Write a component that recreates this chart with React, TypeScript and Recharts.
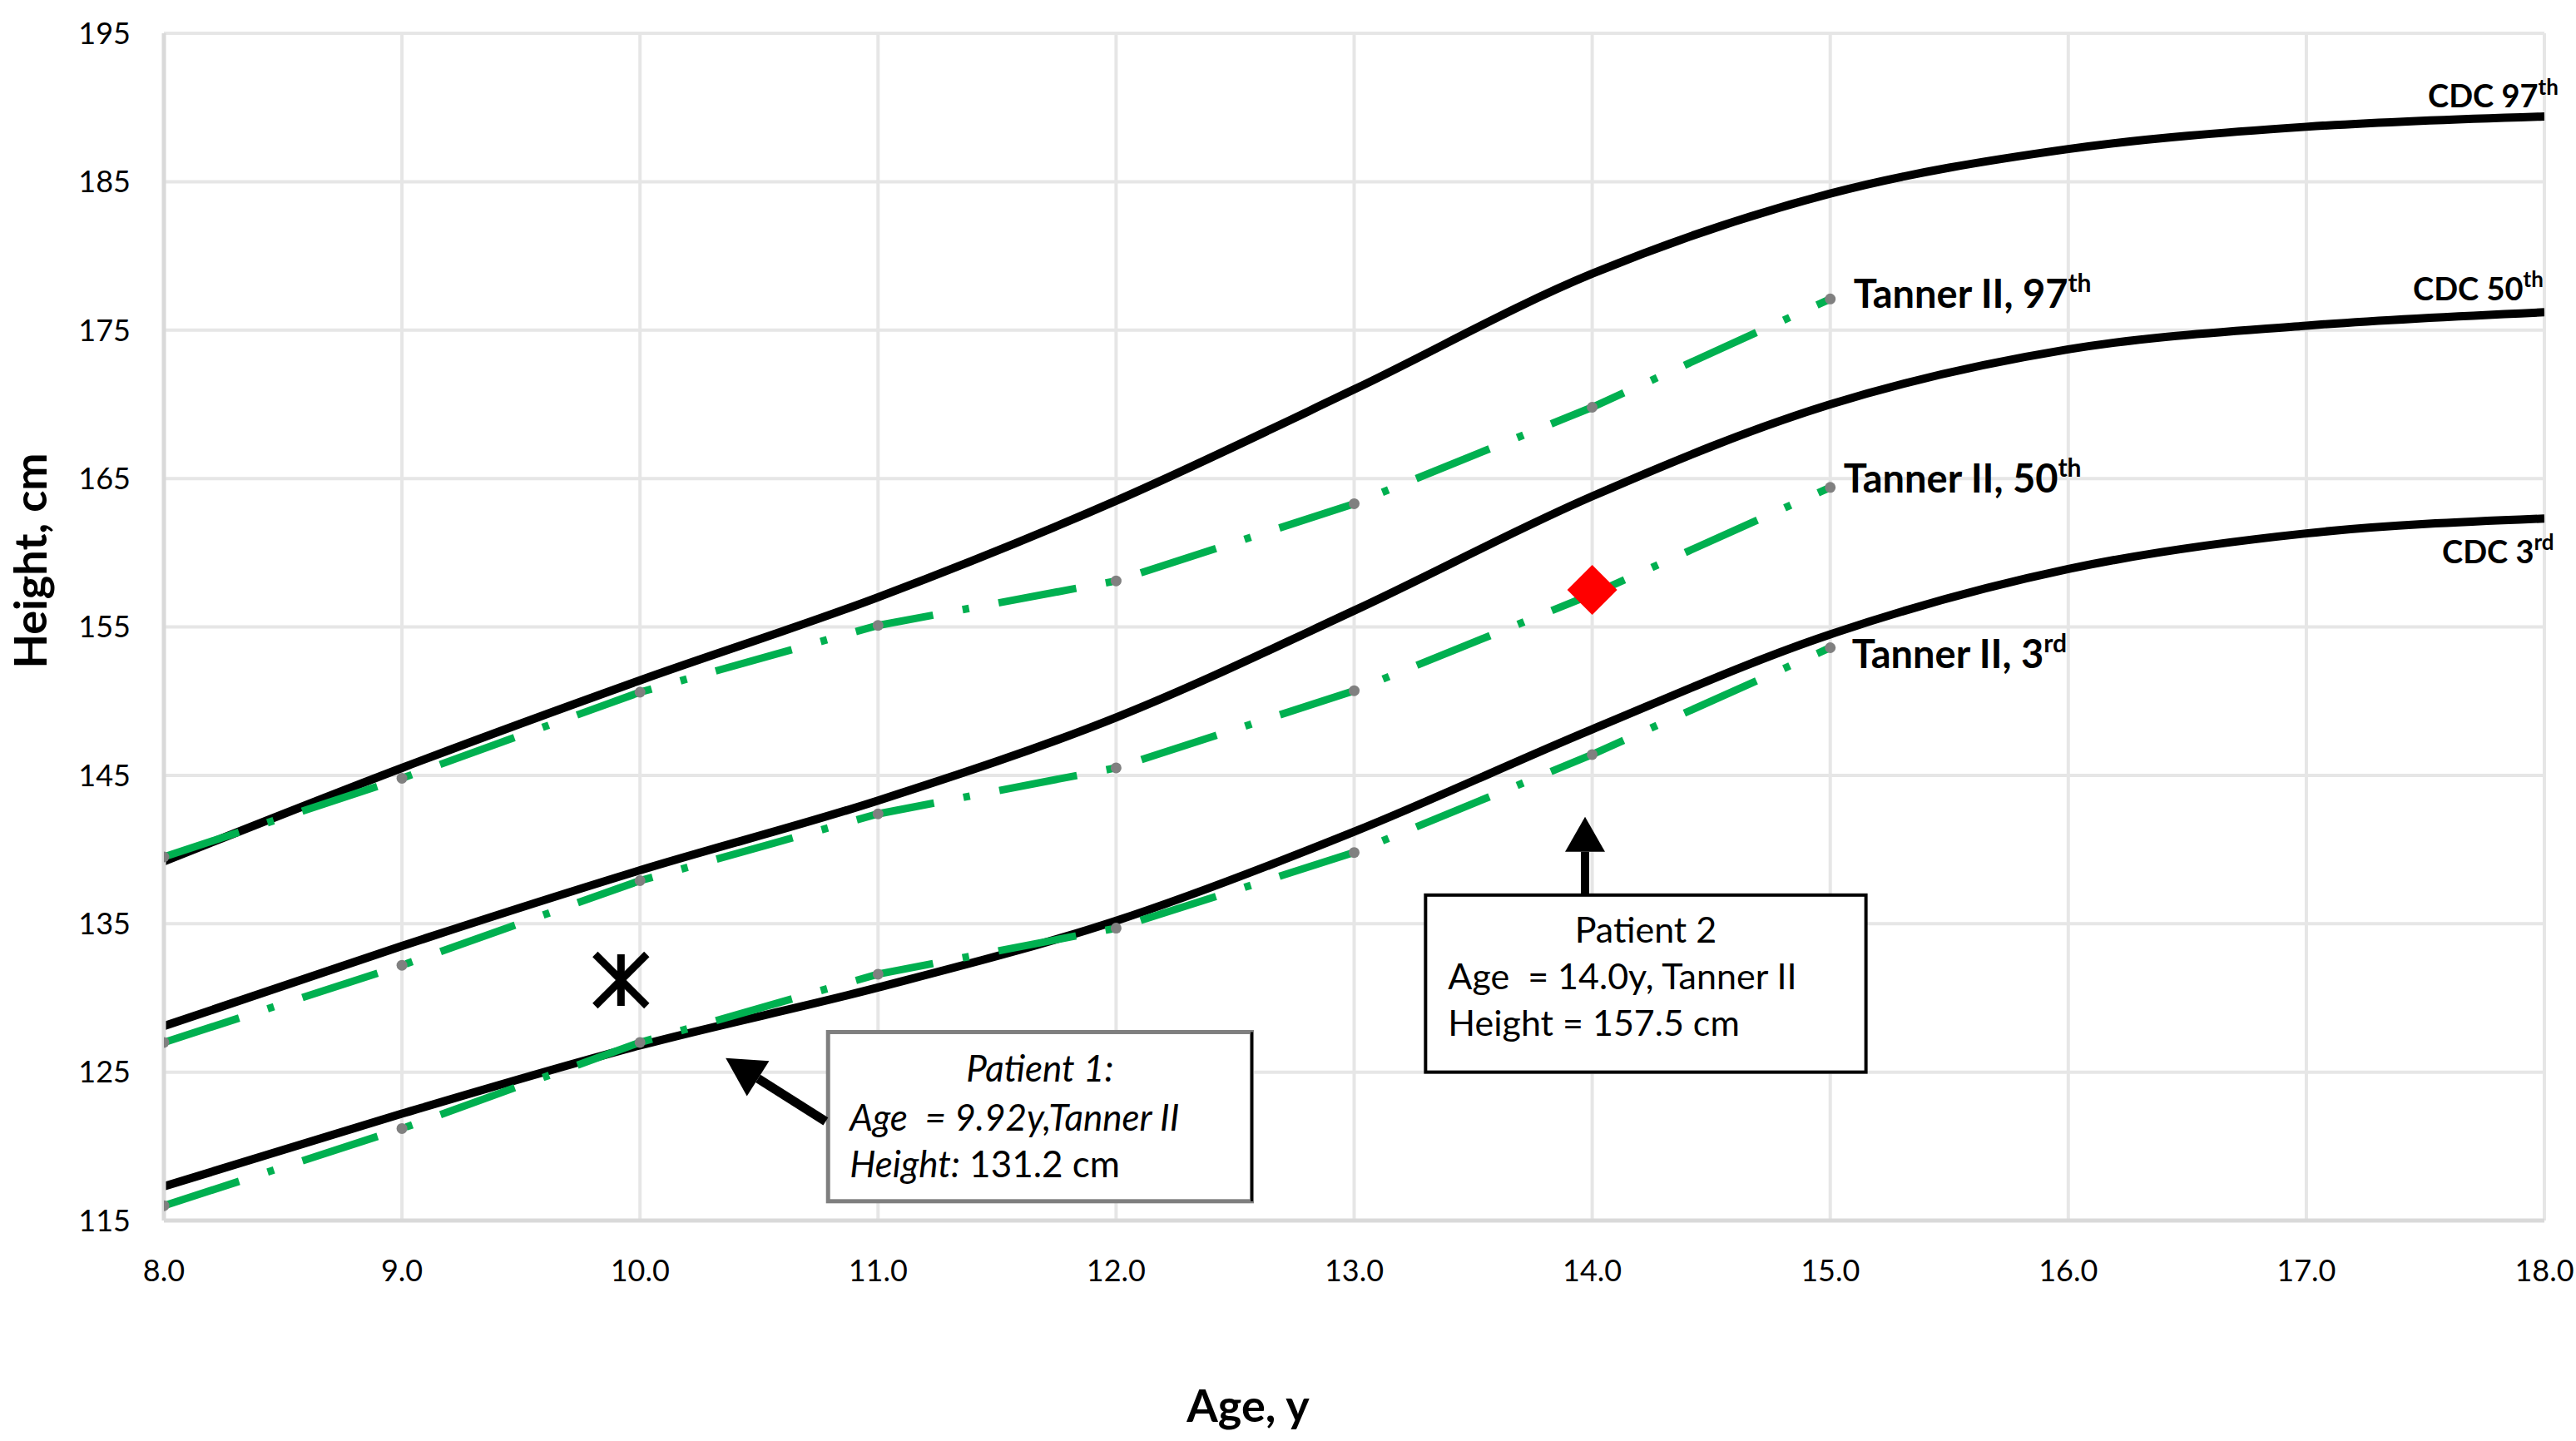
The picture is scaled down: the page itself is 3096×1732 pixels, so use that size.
import React from "react"
import {
    CartesianGrid,
    ComposedChart,
    Line,
    ReferenceArea,
    ReferenceDot,
    ReferenceLine,
    Scatter,
    XAxis,
    YAxis,
} from "recharts"

const FONT = "Lato, 'Open Sans', sans-serif"

// axes
const xTicks = [8, 9, 10, 11, 12, 13, 14, 15, 16, 17, 18]
const yTicks = [115, 125, 135, 145, 155, 165, 175, 185, 195]

// CDC reference percentiles (ages 8..18)
const cdcAges = [8, 9, 10, 11, 12, 13, 14, 15, 16, 17, 18]
const cdc97 = [139.2, 145.5, 151.4, 157.0, 163.5, 171.0, 178.8, 184.2, 187.2, 188.7, 189.4]
const cdc50 = [128.1, 133.5, 138.6, 143.3, 148.9, 156.1, 163.8, 170.0, 173.7, 175.3, 176.2]
const cdc3 = [117.3, 122.2, 126.8, 130.7, 135.2, 141.2, 148.1, 154.5, 158.9, 161.3, 162.3]

// Tanner II percentiles (ages 8..15)
const tannerAges = [8, 9, 10, 11, 12, 13, 14, 15]
const tanner97 = [139.5, 144.8, 150.6, 155.1, 158.1, 163.3, 169.8, 177.1]
const tanner50 = [127.0, 132.2, 137.9, 142.4, 145.5, 150.7, 157.2, 164.4]
const tanner3 = [116.0, 121.2, 127.0, 131.6, 134.7, 139.8, 146.4, 153.6]

// patients
const patient1 = [{ age: 9.92, h: 131.2 }]
const patient2 = [{ age: 14.0, h: 157.5 }]

// annotation anchors (data units)
const box1 = { x1: 10.79, x2: 12.57, y1: 116.3, y2: 127.7 }
const box2 = { x1: 13.3, x2: 15.15, y1: 125.0, y2: 136.93 }
const arrow1 = [{ x: 10.78, y: 121.68 }, { x: 10.36, y: 125.94 }]
const arrow2 = [{ x: 13.97, y: 136.93 }, { x: 13.97, y: 142.2 }]

const toPoints = (ages: number[], hs: number[]) => ages.map((age, i) => ({ age, h: hs[i] }))

const GREEN = "#00B050"

function endLabel(main: string, sup: string, dx: number, dy: number, size: number, supSize: number) {
    return (p: any) => (
        <text
            x={p.cx + dx}
            y={p.cy + dy}
            dy="0.35em"
            fontFamily={FONT}
            fontWeight={700}
            fontSize={size}
            fill="#000"
        >
            {main}
            <tspan fontSize={supSize} dy={-size * 0.4}>
                {sup}
            </tspan>
        </text>
    )
}

function Arrow({ x1, y1, x2, y2, w, head, hw }: any) {
    const len = Math.hypot(x2 - x1, y2 - y1)
    const ux = (x2 - x1) / len
    const uy = (y2 - y1) / len
    const nx = -uy
    const ny = ux
    const bx = x2 - ux * head
    const by = y2 - uy * head
    return (
        <g>
            <line x1={x1} y1={y1} x2={bx} y2={by} stroke="#000" strokeWidth={w} />
            <polygon
                points={`${x2},${y2} ${bx + nx * hw},${by + ny * hw} ${bx - nx * hw},${by - ny * hw}`}
                fill="#000"
            />
        </g>
    )
}

function Box1(p: any) {
    return (
        <g fontFamily={FONT} fontSize={44} fill="#000">
            <rect x={p.x} y={p.y} width={p.width} height={p.height} fill="#fff" stroke="#7f7f7f" strokeWidth={5} />
            <line x1={p.x + p.width} y1={p.y} x2={p.x + p.width} y2={p.y + p.height} stroke="#000" strokeWidth={3} />
            <text x={p.x + p.width / 2} y={p.y + 44} dy="0.35em" textAnchor="middle" fontStyle="italic">
                Patient 1:
            </text>
            <text x={p.x + 26} y={p.y + 103} dy="0.35em" fontStyle="italic" style={{ whiteSpace: "pre" }}>
                {"Age  = 9.92y,Tanner II"}
            </text>
            <text x={p.x + 26} y={p.y + 159} dy="0.35em">
                <tspan fontStyle="italic">Height:</tspan>
                {" 131.2 cm"}
            </text>
        </g>
    )
}

function Box2(p: any) {
    return (
        <g fontFamily={FONT} fontSize={43} fill="#000">
            <rect x={p.x} y={p.y} width={p.width} height={p.height} fill="#fff" stroke="#000" strokeWidth={4} />
            <text x={p.x + p.width / 2} y={p.y + 42} dy="0.35em" textAnchor="middle">
                Patient 2
            </text>
            <text x={p.x + 27} y={p.y + 98} dy="0.35em" style={{ whiteSpace: "pre" }}>
                {"Age  = 14.0y, Tanner II"}
            </text>
            <text x={p.x + 27} y={p.y + 154} dy="0.35em">
                Height = 157.5 cm
            </text>
        </g>
    )
}

function StarMarker(p: any) {
    const s = 31
    return (
        <g stroke="#000" strokeWidth={9}>
            <line x1={p.cx - s} y1={p.cy - s} x2={p.cx + s} y2={p.cy + s} />
            <line x1={p.cx + s} y1={p.cy - s} x2={p.cx - s} y2={p.cy + s} />
            <line x1={p.cx} y1={p.cy - s} x2={p.cx} y2={p.cy + s} />
        </g>
    )
}

function DiamondMarker(p: any) {
    const s = 30
    return (
        <polygon
            points={`${p.cx},${p.cy - s} ${p.cx + s},${p.cy} ${p.cx},${p.cy + s} ${p.cx - s},${p.cy}`}
            fill="#FF0000"
        />
    )
}

const last = (a: number[]) => a[a.length - 1]

export default function App() {
    const tick = { fontSize: 36, fill: "#000", fontFamily: FONT }
    const cdcLine = { type: "monotone" as const, stroke: "#000", strokeWidth: 10, dot: false, isAnimationActive: false }
    const tannerLine = {
        type: "linear" as const,
        stroke: GREEN,
        strokeWidth: 9,
        strokeDasharray: "95 36 8 36",
        dot: { r: 6.5, fill: "#808080", stroke: "none" },
        isAnimationActive: false,
    }
    return (
        <div
            style={{
                position: "absolute",
                left: 0,
                top: 0,
                width: 3096,
                height: 1732,
                background: "#fff",
                fontFamily: FONT,
            }}
        >
            <ComposedChart width={3096} height={1732} margin={{ top: 40, right: 38, bottom: 0, left: 0 }}>
                <CartesianGrid stroke="#e6e6e6" strokeWidth={4} />
                <XAxis
                    dataKey="age"
                    type="number"
                    domain={[8, 18]}
                    ticks={xTicks}
                    allowDataOverflow
                    height={265}
                    tickSize={0}
                    tickMargin={47}
                    tick={tick}
                    tickFormatter={(v: number) => v.toFixed(1)}
                    axisLine={{ stroke: "#d9d9d9", strokeWidth: 5 }}
                    label={(props: any) => {
                        const vb = props.viewBox
                        return (
                            <text
                                x={vb.x + 1303}
                                y={vb.y + 223}
                                dy="0.35em"
                                textAnchor="middle"
                                fontFamily={FONT}
                                fontWeight={700}
                                fontSize={54}
                                fill="#000"
                            >
                                Age, y
                            </text>
                        )
                    }}
                />
                <YAxis
                    type="number"
                    domain={[115, 195]}
                    ticks={yTicks}
                    allowDataOverflow
                    width={197}
                    tickSize={0}
                    tickMargin={40}
                    tick={tick}
                    axisLine={{ stroke: "#d9d9d9", strokeWidth: 5 }}
                    label={(props: any) => {
                        const vb = props.viewBox
                        const cx = 37
                        const cy = vb.y + 634
                        return (
                            <text
                                x={cx}
                                y={cy}
                                dy="0.35em"
                                textAnchor="middle"
                                transform={`rotate(-90 ${cx} ${cy})`}
                                fontFamily={FONT}
                                fontWeight={700}
                                fontSize={54}
                                fill="#000"
                            >
                                Height, cm
                            </text>
                        )
                    }}
                />

                <Line data={toPoints(cdcAges, cdc97)} dataKey="h" {...cdcLine} />
                <Line data={toPoints(cdcAges, cdc50)} dataKey="h" {...cdcLine} />
                <Line data={toPoints(cdcAges, cdc3)} dataKey="h" {...cdcLine} />

                <Line data={toPoints(tannerAges, tanner97)} dataKey="h" {...tannerLine} />
                <Line data={toPoints(tannerAges, tanner50)} dataKey="h" {...tannerLine} />
                <Line data={toPoints(tannerAges, tanner3)} dataKey="h" {...tannerLine} />

                <ReferenceDot x={last(cdcAges)} y={last(cdc97)} shape={endLabel("CDC 97", "th", -140, -24, 38, 26)} />
                <ReferenceDot x={last(cdcAges)} y={last(cdc50)} shape={endLabel("CDC 50", "th", -158, -28, 38, 26)} />
                <ReferenceDot x={last(cdcAges)} y={last(cdc3)} shape={endLabel("CDC 3", "rd", -123, 40, 38, 26)} />
                <ReferenceDot x={last(tannerAges)} y={last(tanner97)} shape={endLabel("Tanner II, 97", "th", 28, -6, 47, 30)} />
                <ReferenceDot x={last(tannerAges)} y={last(tanner50)} shape={endLabel("Tanner II, 50", "th", 16, -10, 47, 30)} />
                <ReferenceDot x={last(tannerAges)} y={last(tanner3)} shape={endLabel("Tanner II, 3", "rd", 26, 8, 47, 30)} />

                <ReferenceArea {...box1} shape={Box1} />
                <ReferenceArea {...box2} shape={Box2} />
                <ReferenceLine
                    segment={arrow1}
                    shape={(p: any) => <Arrow {...p} w={11} head={46} hw={25} />}
                />
                <ReferenceLine
                    segment={arrow2}
                    shape={(p: any) => <Arrow {...p} w={10} head={42} hw={24} />}
                />

                <Scatter data={patient1} dataKey="h" shape={StarMarker} isAnimationActive={false} />
                <Scatter data={patient2} dataKey="h" shape={DiamondMarker} isAnimationActive={false} />
            </ComposedChart>
        </div>
    )
}
